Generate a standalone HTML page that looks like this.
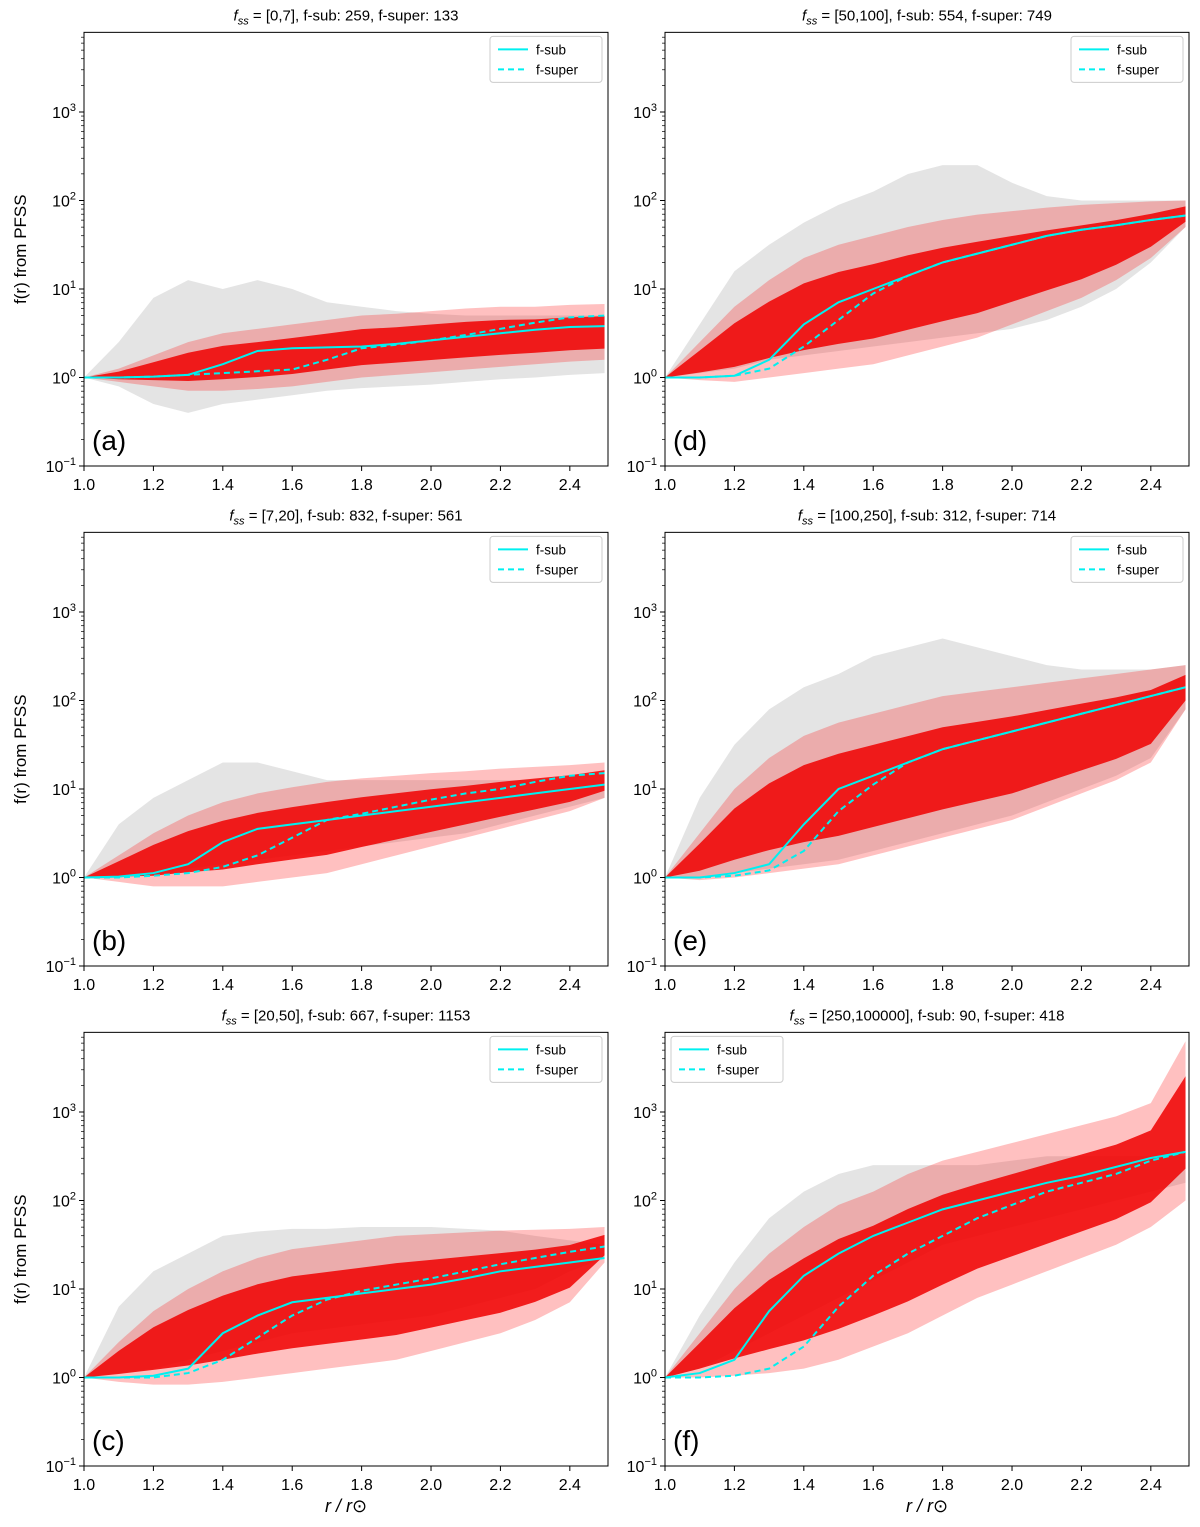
<!DOCTYPE html>
<html><head><meta charset="utf-8"><style>
body{margin:0;background:#fff}
svg{display:block;font-family:"Liberation Sans","DejaVu Sans",sans-serif}
</style></head><body>
<svg id="fig" width="1200" height="1527" viewBox="0 0 1200 1527" xmlns="http://www.w3.org/2000/svg"></svg>
<script>
// shared radius grid
const radii=[1.0,1.1,1.2,1.3,1.4,1.5,1.6,1.7,1.8,1.9,2.0,2.1,2.2,2.3,2.4,2.5];
const xTicks=[1.0,1.2,1.4,1.6,1.8,2.0,2.2,2.4];
const yTickExps=[-1,0,1,2,3];
// panel meta
const panelLetters=["a","b","c","d","e","f"];
const panelRanges=["[0,7]","[7,20]","[20,50]","[50,100]","[100,250]","[250,100000]"];
const subCounts=[259,832,667,554,312,90];
const superCounts=[133,561,1153,749,714,418];
// log10 values per panel
const subA=[0,0,0.01,0.03,0.15,0.3,0.33,0.34,0.35,0.38,0.42,0.46,0.5,0.54,0.57,0.58];
const supA=[0,0,0.01,0.03,0.05,0.07,0.09,0.2,0.33,0.37,0.42,0.48,0.55,0.62,0.68,0.7];
const redLoA=[0,-0.05,-0.1,-0.15,-0.15,-0.13,-0.1,-0.05,0,0.03,0.06,0.09,0.12,0.15,0.18,0.2];
const redHiA=[0,0.1,0.25,0.4,0.5,0.55,0.6,0.65,0.7,0.72,0.75,0.78,0.8,0.8,0.82,0.83];
const grayLoA=[0,-0.1,-0.3,-0.4,-0.3,-0.25,-0.2,-0.15,-0.12,-0.1,-0.08,-0.05,-0.02,0,0.03,0.05];
const grayHiA=[0,0.4,0.9,1.1,1.0,1.1,1.0,0.85,0.8,0.75,0.72,0.7,0.7,0.7,0.7,0.7];

const subB=[0,0.01,0.05,0.15,0.4,0.55,0.6,0.65,0.7,0.75,0.8,0.85,0.9,0.95,1.0,1.05];
const supB=[0,0,0.02,0.05,0.12,0.25,0.45,0.65,0.72,0.8,0.88,0.95,1.0,1.08,1.15,1.18];
const redLoB=[0,-0.05,-0.1,-0.1,-0.1,-0.05,0,0.05,0.15,0.25,0.35,0.45,0.55,0.65,0.75,0.9];
const redHiB=[0,0.25,0.5,0.7,0.85,0.95,1.02,1.08,1.12,1.15,1.18,1.2,1.23,1.25,1.27,1.3];
const grayLoB=[0,0,0.05,0.1,0.15,0.2,0.25,0.3,0.35,0.4,0.45,0.5,0.6,0.7,0.8,0.9];
const grayHiB=[0,0.6,0.9,1.1,1.3,1.3,1.2,1.1,1.1,1.1,1.1,1.1,1.1,1.1,1.1,1.1];

const subC=[0,0,0.02,0.1,0.5,0.7,0.85,0.9,0.95,1.0,1.05,1.12,1.2,1.25,1.3,1.35];
const supC=[0,0,0,0.05,0.2,0.45,0.7,0.88,0.98,1.05,1.12,1.2,1.28,1.35,1.42,1.48];
const redLoC=[0,-0.05,-0.08,-0.08,-0.05,0,0.05,0.1,0.15,0.2,0.3,0.4,0.5,0.65,0.85,1.3];
const redHiC=[0,0.4,0.75,1.0,1.2,1.35,1.45,1.5,1.55,1.6,1.62,1.64,1.66,1.67,1.68,1.7];
const grayLoC=[0,0.05,0.1,0.2,0.3,0.4,0.5,0.55,0.6,0.65,0.7,0.8,0.9,1.0,1.2,1.35];
const grayHiC=[0,0.8,1.2,1.4,1.6,1.65,1.68,1.68,1.7,1.7,1.7,1.68,1.66,1.6,1.55,1.5];

const subD=[0,0,0.02,0.2,0.6,0.85,1.0,1.15,1.3,1.4,1.5,1.6,1.67,1.72,1.78,1.83];
const supD=[0,0,0.02,0.1,0.35,0.65,0.95,1.15,1.3,1.4,1.5,1.6,1.67,1.72,1.78,1.83];
const redLoD=[0,-0.03,-0.05,0,0.05,0.1,0.15,0.25,0.35,0.45,0.6,0.75,0.9,1.1,1.35,1.7];
const redHiD=[0,0.4,0.8,1.1,1.35,1.5,1.6,1.7,1.78,1.84,1.88,1.92,1.95,1.97,1.99,2.0];
const grayLoD=[0,0.05,0.1,0.2,0.25,0.3,0.35,0.4,0.45,0.5,0.55,0.65,0.8,1.0,1.3,1.7];
const grayHiD=[0,0.6,1.2,1.5,1.75,1.95,2.1,2.3,2.4,2.4,2.2,2.05,2.0,2.0,2.0,2.0];

const subE=[0,0,0.05,0.15,0.6,1.0,1.15,1.3,1.45,1.55,1.65,1.75,1.85,1.95,2.05,2.15];
const supE=[0,0,0.02,0.08,0.3,0.75,1.05,1.3,1.45,1.55,1.65,1.75,1.85,1.95,2.05,2.15];
const redLoE=[0,-0.03,0,0.05,0.1,0.15,0.25,0.35,0.45,0.55,0.65,0.8,0.95,1.1,1.3,1.9];
const redHiE=[0,0.5,1.0,1.35,1.6,1.75,1.85,1.95,2.05,2.1,2.15,2.2,2.25,2.3,2.35,2.4];
const grayLoE=[0,0,0.05,0.1,0.15,0.2,0.3,0.4,0.5,0.6,0.7,0.85,1.0,1.15,1.35,1.9];
const grayHiE=[0,0.9,1.5,1.9,2.15,2.3,2.5,2.6,2.7,2.6,2.5,2.4,2.35,2.35,2.35,2.4];

const subF=[0,0.05,0.2,0.75,1.15,1.4,1.6,1.75,1.9,2.0,2.1,2.2,2.28,2.38,2.48,2.55];
const supF=[0,0,0.02,0.1,0.35,0.8,1.15,1.4,1.6,1.8,1.95,2.1,2.2,2.3,2.45,2.55];
const redLoF=[0,0,0.02,0.05,0.1,0.2,0.35,0.5,0.7,0.9,1.05,1.2,1.35,1.5,1.7,2.0];
const redHiF=[0,0.5,1.0,1.4,1.7,1.95,2.1,2.3,2.45,2.55,2.65,2.75,2.85,2.95,3.1,3.8];
const grayLoF=[0,0.1,0.3,0.5,0.7,0.9,1.1,1.3,1.5,1.6,1.7,1.8,1.9,2.0,2.1,2.2];
const grayHiF=[0,0.7,1.3,1.8,2.1,2.3,2.4,2.4,2.4,2.4,2.45,2.5,2.5,2.5,2.5,2.5];

const subs=[subA,subB,subC,subD,subE,subF];
const sups=[supA,supB,supC,supD,supE,supF];
const redLos=[redLoA,redLoB,redLoC,redLoD,redLoE,redLoF];
const redHis=[redHiA,redHiB,redHiC,redHiD,redHiE,redHiF];
const grayLos=[grayLoA,grayLoB,grayLoC,grayLoD,grayLoE,grayLoF];
const grayHis=[grayHiA,grayHiB,grayHiC,grayHiD,grayHiE,grayHiF];

const NS="http://www.w3.org/2000/svg";
const svg=document.getElementById('fig');
function mk(tag,attrs,parent){const e=document.createElementNS(NS,tag);for(const k in attrs)e.setAttribute(k,attrs[k]);(parent||svg).appendChild(e);return e;}

const lefts=[84,84,84,665,665,665];
const bottoms=[466,966,1466,466,966,1466];
const plotW=524, dec=88.5, xMax=2.51;

for(let p=0;p<6;p++){
  const x0=lefts[p], yb=bottoms[p], yt=yb-4.9*dec;
  const xs=r=>x0+(r-1)/(xMax-1)*plotW;
  const ys=l=>yb-(l+1)*dec;
  const g=mk('g',{});
  
  
  const clipId='clip'+p;
  const cp=mk('clipPath',{id:clipId},g);mk('rect',{x:x0,y:yt,width:plotW,height:yb-yt},cp);
  const pg=mk('g',{'clip-path':'url(#'+clipId+')'},g);
  function band(lo,hi,fill,name){
    let d='M'+radii.map((r,i)=>xs(r)+','+ys(hi[i])).join(' L');
    for(let i=radii.length-1;i>=0;i--)d+=' L'+xs(radii[i])+','+ys(lo[i]);
    const e=mk('path',{d:d+'Z',fill:fill},pg);
    
    
  }
  band(grayLos[p],grayHis[p],'rgba(90,90,90,0.16)','gray-curve-envelope');
  band(redLos[p],redHis[p],'rgba(255,30,30,0.28)','red-curve-envelope');
  const cl=redLos[p].map((v,i)=>v+0.2*(redHis[p][i]-v));
  const ch=redLos[p].map((v,i)=>v+0.78*(redHis[p][i]-v));
  band(cl,ch,'rgba(240,0,0,0.85)','red-curve-core');
  function line(vals,dash,name){
    const e=mk('path',{d:'M'+radii.map((r,i)=>xs(r)+','+ys(vals[i])).join(' L'),fill:'none',stroke:'#00f0f0','stroke-width':2,'stroke-dasharray':dash},pg);
    
    
  }
  line(subs[p],'none','f-sub-line');
  line(sups[p],'6,4','f-super-line');
  const fr=mk('rect',{x:x0,y:yt,width:plotW,height:yb-yt,fill:'none',stroke:'#000','stroke-width':1},g);
  
  
  xTicks.forEach(t=>{
    mk('line',{x1:xs(t),x2:xs(t),y1:yb,y2:yb+5,stroke:'#000'},g);
    const tx=mk('text',{x:xs(t),y:yb+24,'text-anchor':'middle','font-size':16},g);tx.textContent=t.toFixed(1);
    
    
  });
  yTickExps.forEach(e=>{
    mk('line',{x1:x0-5,x2:x0,y1:ys(e),y2:ys(e),stroke:'#000'},g);
    for(let m=2;m<10&&e<3.9;m++){const yy=ys(e+Math.log10(m));if(yy>yt)mk('line',{x1:x0-3,x2:x0,y1:yy,y2:yy,stroke:'#000','stroke-width':0.7},g);}
    const tx=mk('text',{x:x0-8,y:ys(e)+6,'text-anchor':'end','font-size':16},g);
    
    
    const a=mk('tspan',{},tx);a.textContent='10';
    const b=mk('tspan',{dy:-7,'font-size':11},tx);b.textContent=e===-1?'\u22121':String(e);
  });
  const ti=mk('text',{x:x0+plotW/2,y:yt-12,'text-anchor':'middle','font-size':15},g);
  
  
  const t1=mk('tspan',{'font-style':'italic'},ti);t1.textContent='f';
  const t2=mk('tspan',{'font-style':'italic','font-size':11,dy:4},ti);t2.textContent='ss';
  const t3=mk('tspan',{dy:-4},ti);t3.textContent=' = '+panelRanges[p]+', f-sub: '+subCounts[p]+', f-super: '+superCounts[p];
  const pl=mk('text',{x:x0+8,y:yb-16,'font-size':28},g);pl.textContent='('+panelLetters[p]+')';
  
  
  const lx=p===5?x0+6:x0+plotW-118, ly=yt+4;
  const lg=mk('g',{},g);
  
  
  mk('rect',{x:lx,y:ly,width:112,height:46,rx:3,fill:'#fff','fill-opacity':0.85,stroke:'#ccc'},lg);
  mk('line',{x1:lx+8,x2:lx+38,y1:ly+13,y2:ly+13,stroke:'#00f0f0','stroke-width':2},lg);
  mk('line',{x1:lx+8,x2:lx+38,y1:ly+33,y2:ly+33,stroke:'#00f0f0','stroke-width':2,'stroke-dasharray':'6,4'},lg);
  const l1=mk('text',{x:lx+46,y:ly+18,'font-size':13.5},lg);l1.textContent='f-sub';
  
  
  const l2=mk('text',{x:lx+46,y:ly+38,'font-size':13.5},lg);l2.textContent='f-super';
  
  
  if(p<3){
    const yl=mk('text',{x:26,y:(yt+yb)/2,'text-anchor':'middle','font-size':17,transform:'rotate(-90 26 '+((yt+yb)/2)+')'},g);
    yl.textContent='f(r) from PFSS';
    
    
  }
  if(p===2||p===5){
    const xl=mk('text',{x:x0+plotW/2,y:1512,'text-anchor':'middle','font-size':18,'font-style':'italic'},g);
    xl.textContent='r / r\u2299';
    
    
  }
}
</script>
</body></html>
